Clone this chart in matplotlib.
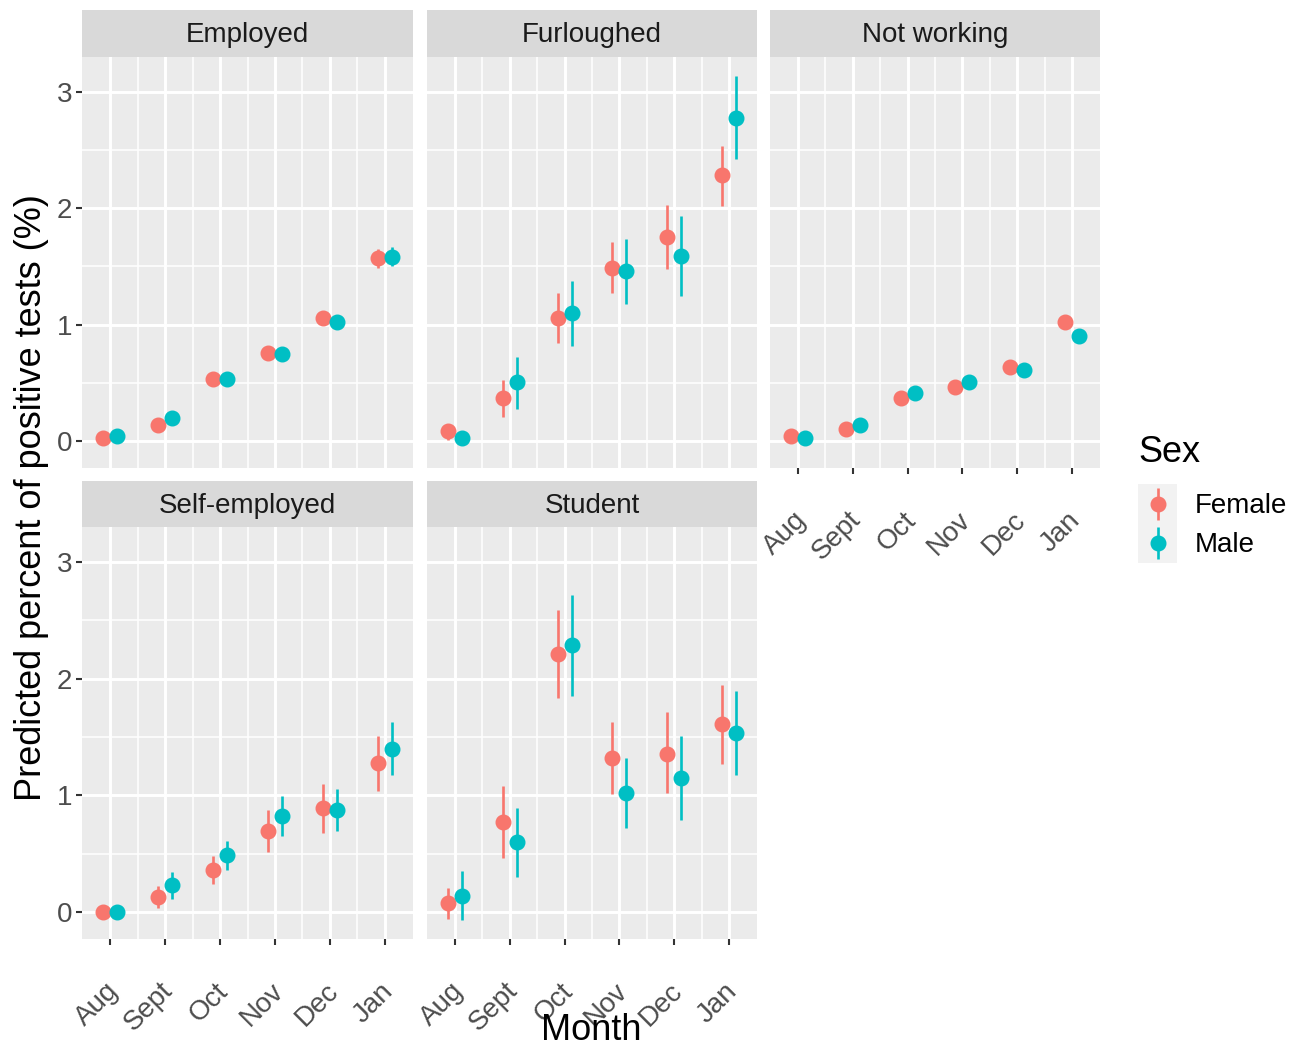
import numpy as np
import matplotlib as mpl
mpl.use('Agg')
import matplotlib.pyplot as plt
from matplotlib.patches import Rectangle
import matplotlib.transforms as mtransforms

plt.rcParams['font.family'] = ['Liberation Sans', 'DejaVu Sans']

months = ['Aug', 'Sept', 'Oct', 'Nov', 'Dec', 'Jan']
groups = ['Employed', 'Furloughed', 'Not working', 'Self-employed', 'Student']

# rows follow groups, columns follow months
female_est = np.array([
    [0.03, 0.14, 0.53, 0.76, 1.06, 1.57],
    [0.086, 0.367, 1.06, 1.49, 1.754, 2.285],
    [0.046, 0.106, 0.37, 0.467, 0.636, 1.02],
    [0.0, 0.131, 0.358, 0.694, 0.888, 1.273],
    [0.075, 0.774, 2.212, 1.318, 1.356, 1.608],
])
female_lo = np.array([
    [0.02, 0.12, 0.50, 0.72, 1.02, 1.49],
    [0.01, 0.21, 0.845, 1.27, 1.476, 2.02],
    [0.03, 0.09, 0.34, 0.43, 0.60, 0.97],
    [0.0, 0.03, 0.238, 0.51, 0.68, 1.034],
    [-0.063, 0.464, 1.83, 1.012, 1.02, 1.27],
])
female_hi = np.array([
    [0.04, 0.16, 0.56, 0.80, 1.10, 1.65],
    [0.15, 0.52, 1.27, 1.71, 2.03, 2.536],
    [0.06, 0.12, 0.40, 0.50, 0.67, 1.07],
    [0.0, 0.22, 0.476, 0.87, 1.095, 1.51],
    [0.206, 1.08, 2.59, 1.625, 1.71, 1.946],
])
male_est = np.array([
    [0.04, 0.20, 0.53, 0.75, 1.02, 1.585],
    [0.03, 0.505, 1.10, 1.465, 1.593, 2.777],
    [0.023, 0.135, 0.41, 0.505, 0.613, 0.90],
    [0.0, 0.232, 0.487, 0.823, 0.874, 1.40],
    [0.14, 0.596, 2.285, 1.02, 1.149, 1.533],
])
male_lo = np.array([
    [0.03, 0.18, 0.50, 0.71, 0.98, 1.50],
    [0.0, 0.275, 0.82, 1.18, 1.247, 2.42],
    [0.01, 0.12, 0.38, 0.47, 0.58, 0.85],
    [0.0, 0.114, 0.36, 0.647, 0.69, 1.178],
    [-0.069, 0.30, 1.855, 0.72, 0.792, 1.175],
])
male_hi = np.array([
    [0.05, 0.22, 0.56, 0.79, 1.06, 1.67],
    [0.06, 0.725, 1.376, 1.74, 1.935, 3.14],
    [0.04, 0.15, 0.44, 0.54, 0.65, 0.95],
    [0.0, 0.344, 0.61, 0.99, 1.055, 1.625],
    [0.352, 0.89, 2.718, 1.32, 1.506, 1.89],
])

FEMALE = '#F8766D'
MALE = '#00BFC4'
W, H = 1305, 1047
SMALL = 20
BIG = 26

col_x = [(82, 413), (427, 757), (770, 1100)]
row_y = [((10, 57), (57, 468)), ((481, 527), (527, 939))]


def fig_rect(x0, x1, y0, y1):
    return [x0 / W, 1 - y1 / H, (x1 - x0) / W, (y1 - y0) / H]


fig = plt.figure(figsize=(W / 100, H / 100), dpi=100)
x = np.arange(1, 7)
dodge = 0.127

for i, g in enumerate(groups):
    r, c = divmod(i, 3)
    (sy0, sy1), (py0, py1) = row_y[r]
    cx0, cx1 = col_x[c]
    ax = fig.add_axes(fig_rect(cx0, cx1, py0, py1))
    ax.set_facecolor('#EBEBEB')
    for s in ax.spines.values():
        s.set_visible(False)
    ax.set_xlim(0.49, 6.51)
    ax.set_ylim(-0.232, 3.30)
    ax.set_xticks(x)
    ax.set_xticks(np.arange(1.5, 6.5, 1), minor=True)
    ax.set_yticks([0, 1, 2, 3])
    ax.set_yticks([0.5, 1.5, 2.5], minor=True)
    ax.grid(which='major', color='white', linewidth=2.1)
    ax.grid(which='minor', color='white', linewidth=1.1)
    ax.set_axisbelow(True)
    ax.tick_params(which='minor', length=0)
    ax.tick_params(which='major', length=4, width=1.5, color='#333333',
                   labelsize=SMALL, labelcolor='#4D4D4D')

    # error bars then points
    ax.vlines(x - dodge, female_lo[i], female_hi[i], color=FEMALE, linewidth=1.9, zorder=2)
    ax.vlines(x + dodge, male_lo[i], male_hi[i], color=MALE, linewidth=1.9, zorder=2)
    ax.plot(x - dodge, female_est[i], 'o', color=FEMALE, markersize=10.5, zorder=3)
    ax.plot(x + dodge, male_est[i], 'o', color=MALE, markersize=10.5, zorder=3)

    if c == 0:
        ax.set_yticklabels(['0', '1', '2', '3'])
        ax.tick_params(axis='y', pad=3)
    else:
        ax.tick_params(axis='y', length=0, labelleft=False)

    if r == 1 or c == 2:
        ax.set_xticklabels(months, rotation=45, ha='right', va='top',
                           rotation_mode='anchor')
        ax.tick_params(axis='x', pad=24)
        off = mtransforms.ScaledTranslation(-5 / 100, 0, fig.dpi_scale_trans)
        for lab in ax.get_xticklabels():
            lab.set_transform(lab.get_transform() + off)
    else:
        ax.tick_params(axis='x', length=0, labelbottom=False)

    sax = fig.add_axes(fig_rect(cx0, cx1, sy0, sy1))
    sax.set_facecolor('#D9D9D9')
    sax.set_xticks([])
    sax.set_yticks([])
    for s in sax.spines.values():
        s.set_visible(False)
    sax.text(0.5, 0.46, g, ha='center', va='center', fontsize=SMALL,
             color='#1A1A1A', transform=sax.transAxes)

fig.text(32 / W, 1 - 498 / H, 'Predicted percent of positive tests (%)',
         rotation=90, ha='center', va='center', fontsize=BIG)
fig.text(591 / W, 1 - 1031 / H, 'Month', ha='center', va='center', fontsize=BIG)

# legend
fig.text(1138 / W, 1 - 453 / H, 'Sex', ha='left', va='center', fontsize=BIG)
lax = fig.add_axes(fig_rect(1138, 1177, 484, 563))
lax.set_xlim(0, 1)
lax.set_ylim(0, 2)
lax.axis('off')
for k, (lab, col) in enumerate([('Female', FEMALE), ('Male', MALE)]):
    yc = 1.5 - k
    lax.add_patch(Rectangle((0, yc - 0.5), 1, 1, facecolor='#F2F2F2', edgecolor='none'))
    lax.vlines(0.5, yc - 0.4, yc + 0.4, color=col, linewidth=1.9)
    lax.plot(0.5, yc, 'o', color=col, markersize=10.5)
    fig.text(1195 / W, 1 - (506 + 39 * k) / H, lab, ha='left', va='center',
             fontsize=SMALL, color='black')

fig.savefig('out.png', dpi=100)
